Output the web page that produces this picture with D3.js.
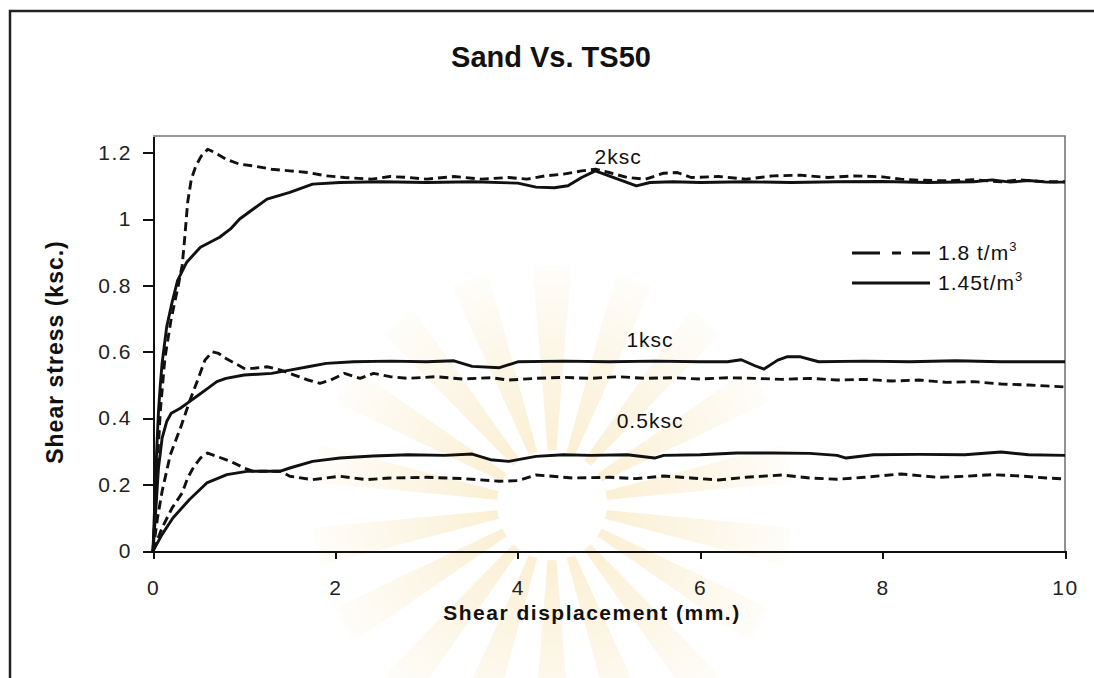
<!DOCTYPE html>
<html>
<head>
<meta charset="utf-8">
<script src="https://cdn.jsdelivr.net/npm/d3@7"></script>
<style>
  body { margin: 0; background: #fff; }
  svg text { font-family: "Liberation Sans", Arial, sans-serif; fill: #111; }
  .axis path, .axis line { stroke: #111; stroke-width: 2; shape-rendering: crispEdges; }
  .axis text { font-size: 21px; letter-spacing: 1.5px; fill: #222; }
  .curve { fill: none; stroke: #111; stroke-width: 2.9; stroke-linejoin: round; }
</style>
</head>
<body>
<svg id="chart" width="1094" height="678"></svg>
<script>
// shear displacement (mm) / shear stress (ksc)
var xTicks = [0, 2, 4, 6, 8, 10];
var yTicks = [0, 0.2, 0.4, 0.6, 0.8, 1, 1.2];
var yTickLabels = ["0", "0.2", "0.4", "0.6", "0.8", "1", "1.2"];

var legendLabels = ["1.8 t/m", "1.45t/m"];
var loadLabels = ["2ksc", "1ksc", "0.5ksc"];

// 2 ksc
var x2Dense = [0, 0.04, 0.08, 0.13, 0.2, 0.27, 0.32, 0.35, 0.38, 0.42, 0.47, 0.53, 0.6, 0.68, 0.8, 0.95, 1.1, 1.3, 1.5, 1.7, 1.9, 2.1, 2.4, 2.6, 2.8, 3.0, 3.3, 3.6, 3.9, 4.1, 4.3, 4.5, 4.7, 4.85, 5.0, 5.2, 5.4, 5.6, 5.75, 5.9, 6.2, 6.5, 6.8, 7.1, 7.4, 7.7, 8.0, 8.2, 8.4, 8.7, 9.0, 9.3, 9.5, 9.8, 10];
var y2Dense = [0, 0.22, 0.42, 0.58, 0.7, 0.79, 0.86, 0.95, 1.05, 1.12, 1.16, 1.19, 1.21, 1.2, 1.18, 1.165, 1.16, 1.15, 1.145, 1.14, 1.13, 1.125, 1.12, 1.128, 1.125, 1.12, 1.128, 1.12, 1.125, 1.12, 1.13, 1.135, 1.145, 1.15, 1.14, 1.125, 1.12, 1.138, 1.14, 1.125, 1.128, 1.12, 1.13, 1.132, 1.125, 1.13, 1.127, 1.12, 1.117, 1.115, 1.118, 1.112, 1.118, 1.112, 1.112];
var x2Loose = [0, 0.02, 0.04, 0.06, 0.08, 0.1, 0.15, 0.21, 0.27, 0.37, 0.52, 0.73, 0.85, 0.95, 1.1, 1.25, 1.5, 1.75, 2.05, 2.5, 3.0, 3.5, 4.0, 4.2, 4.4, 4.55, 4.7, 4.85, 5.0, 5.15, 5.3, 5.45, 5.7, 6.0, 6.5, 7.0, 7.5, 8.0, 8.5, 9.0, 9.2, 9.4, 9.6, 9.8, 10];
var y2Loose = [0, 0.15, 0.3, 0.42, 0.5, 0.566, 0.675, 0.75, 0.815, 0.87, 0.915, 0.945, 0.97, 1.0, 1.03, 1.06, 1.08, 1.105, 1.11, 1.112, 1.11, 1.112, 1.108, 1.096, 1.094, 1.1, 1.125, 1.145, 1.13, 1.115, 1.1, 1.11, 1.112, 1.11, 1.112, 1.11, 1.112, 1.113, 1.11, 1.112, 1.118, 1.111, 1.116, 1.111, 1.111];

// 1 ksc
var x1Dense = [0, 0.05, 0.1, 0.19, 0.3, 0.4, 0.49, 0.57, 0.65, 0.72, 0.8, 0.9, 1.0, 1.1, 1.25, 1.4, 1.55, 1.7, 1.83, 1.95, 2.1, 2.27, 2.42, 2.6, 2.8, 3.1, 3.4, 3.7, 3.9, 4.2, 4.5, 4.8, 5.1, 5.4, 5.7, 6.0, 6.3, 6.6, 6.9, 7.2, 7.5, 7.8, 8.1, 8.4, 8.7, 9.0, 9.3, 9.6, 10];
var y1Dense = [0, 0.1, 0.18, 0.29, 0.37, 0.45, 0.515, 0.575, 0.6, 0.595, 0.58, 0.565, 0.55, 0.55, 0.555, 0.545, 0.53, 0.515, 0.505, 0.515, 0.535, 0.52, 0.535, 0.525, 0.52, 0.525, 0.518, 0.522, 0.515, 0.52, 0.523, 0.52, 0.525, 0.52, 0.522, 0.518, 0.522, 0.52, 0.517, 0.52, 0.515, 0.517, 0.512, 0.515, 0.508, 0.51, 0.503, 0.5, 0.494];
var x1Loose = [0, 0.03, 0.06, 0.1, 0.15, 0.2, 0.3, 0.4, 0.5, 0.6, 0.7, 0.8, 1.0, 1.3, 1.5, 1.7, 1.9, 2.2, 2.6, 3.0, 3.3, 3.5, 3.8, 4.0, 4.5, 5.0, 5.5, 6.0, 6.3, 6.45, 6.6, 6.7, 6.85, 6.95, 7.1, 7.3, 7.8, 8.3, 8.8, 9.3, 9.7, 10];
var y1Loose = [0, 0.12, 0.25, 0.34, 0.39, 0.415, 0.43, 0.45, 0.47, 0.49, 0.51, 0.52, 0.53, 0.535, 0.545, 0.555, 0.565, 0.57, 0.572, 0.57, 0.573, 0.556, 0.552, 0.57, 0.572, 0.57, 0.572, 0.57, 0.57, 0.576, 0.558, 0.548, 0.575, 0.585, 0.585, 0.57, 0.572, 0.57, 0.573, 0.57, 0.57, 0.57];

// 0.5 ksc
var x05Dense = [0, 0.1, 0.21, 0.32, 0.38, 0.45, 0.52, 0.6, 0.7, 0.85, 1.0, 1.1, 1.25, 1.4, 1.5, 1.75, 2.05, 2.34, 2.6, 3.0, 3.4, 3.8, 4.0, 4.2, 4.6, 5.0, 5.3, 5.6, 5.9, 6.2, 6.5, 6.9, 7.2, 7.5, 7.8, 8.2, 8.6, 8.9, 9.2, 9.5, 9.8, 10];
var y05Dense = [0, 0.07, 0.13, 0.175, 0.22, 0.255, 0.28, 0.295, 0.285, 0.27, 0.25, 0.24, 0.24, 0.24, 0.225, 0.215, 0.225, 0.215, 0.22, 0.222, 0.218, 0.21, 0.212, 0.229, 0.22, 0.222, 0.218, 0.226, 0.22, 0.214, 0.222, 0.229, 0.22, 0.216, 0.222, 0.232, 0.222, 0.225, 0.23, 0.226, 0.22, 0.217];
var x05Loose = [0, 0.1, 0.22, 0.4, 0.59, 0.81, 1.03, 1.2, 1.39, 1.5, 1.75, 2.05, 2.41, 2.8, 3.2, 3.5, 3.7, 3.9, 4.2, 4.5, 4.8, 5.2, 5.5, 5.6, 6.0, 6.4, 6.8, 7.2, 7.5, 7.6, 7.9, 8.4, 8.9, 9.3, 9.6, 10];
var y05Loose = [0, 0.05, 0.1, 0.155, 0.205, 0.23, 0.24, 0.24, 0.24, 0.25, 0.27, 0.28, 0.286, 0.29, 0.288, 0.292, 0.275, 0.27, 0.285, 0.29, 0.288, 0.29, 0.28, 0.288, 0.29, 0.295, 0.295, 0.294, 0.288, 0.28, 0.29, 0.291, 0.29, 0.298, 0.29, 0.288];

var denseSeries = [[x2Dense, y2Dense], [x1Dense, y1Dense], [x05Dense, y05Dense]];
var looseSeries = [[x2Loose, y2Loose], [x1Loose, y1Loose], [x05Loose, y05Loose]];
var labelAt = [[5.1, 1.165], [5.45, 0.615], [5.45, 0.37]];

function toPoints(pair) {
  return pair[0].map(function(x, i) { return { x: x, y: pair[1][i] }; });
}

var svg = d3.select("#chart");
var margin = { left: 153, top: 136, right: 1065, bottom: 551 };

var x = d3.scaleLinear().domain([0, 10]).range([margin.left, margin.right]);
var y = d3.scaleLinear().domain([0, 1.25]).range([margin.bottom, margin.top]);

// faint watermark behind the plot
var grad = svg.append("defs").append("radialGradient")
  .attr("id", "wm").attr("gradientUnits", "userSpaceOnUse")
  .attr("cx", 0).attr("cy", 0).attr("r", 240);
grad.append("stop").attr("offset", "25%").attr("stop-color", "#f3d27e");
grad.append("stop").attr("offset", "100%").attr("stop-color", "#fffaf0");

var mark = svg.append("g").attr("transform", "translate(552,505)").attr("opacity", 0.32);
var rays = d3.range(18);
mark.selectAll("path.ray").data(rays).enter().append("path")
  .attr("class", "ray")
  .attr("d", function(d) {
    var a = d / rays.length * 2 * Math.PI;
    return d3.arc().innerRadius(55).outerRadius(240).startAngle(a - 0.08).endAngle(a + 0.08)();
  })
  .style("fill", "url(#wm)");

// outer frame (scanned page border)
svg.append("path")
  .attr("d", "M10,678 L10,11 L1094,11")
  .style("fill", "none").style("stroke", "#222").style("stroke-width", 2.5);

svg.append("text")
  .attr("x", 551).attr("y", 67)
  .attr("text-anchor", "middle")
  .style("font-size", "29px").style("font-weight", "bold")
  .text("Sand Vs. TS50");

// plot border (top/right are lighter in the scan)
svg.append("path")
  .attr("d", "M" + margin.left + "," + margin.top + " L" + margin.right + "," + margin.top + " L" + margin.right + "," + margin.bottom)
  .style("fill", "none").style("stroke", "#777").style("stroke-width", 1.6);

svg.append("g")
  .attr("class", "axis")
  .attr("transform", "translate(0," + margin.bottom + ")")
  .call(d3.axisBottom(x).tickValues(xTicks).tickSize(8).tickSizeOuter(0).tickPadding(21).tickFormat(d3.format("d")));

svg.append("g")
  .attr("class", "axis")
  .attr("transform", "translate(" + margin.left + ",0)")
  .call(d3.axisLeft(y).tickValues(yTicks).tickSize(10).tickSizeOuter(0).tickPadding(11)
    .tickFormat(function(d, i) { return yTickLabels[i]; }));

svg.append("text")
  .attr("x", 592).attr("y", 620)
  .attr("text-anchor", "middle")
  .style("font-size", "21px").style("font-weight", "bold").style("letter-spacing", "1.5px")
  .text("Shear displacement (mm.)");

svg.append("text")
  .attr("transform", "translate(63,352) rotate(-90)")
  .attr("text-anchor", "middle")
  .style("font-size", "23px").style("font-weight", "bold").style("letter-spacing", "1px")
  .text("Shear stress (ksc.)");

var line = d3.line().x(function(d) { return x(d.x); }).y(function(d) { return y(d.y); });

svg.append("g").selectAll("path.dense").data(denseSeries).enter().append("path")
  .attr("class", "curve dense")
  .attr("d", function(d) { return line(toPoints(d)); })
  .style("stroke-dasharray", "9,5");

svg.append("g").selectAll("path.loose").data(looseSeries).enter().append("path")
  .attr("class", "curve loose")
  .attr("d", function(d) { return line(toPoints(d)); });

svg.append("g").selectAll("text").data(loadLabels).enter().append("text")
  .attr("x", function(d, i) { return x(labelAt[i][0]); })
  .attr("y", function(d, i) { return y(labelAt[i][1]); })
  .attr("text-anchor", "middle")
  .style("font-size", "21px").style("letter-spacing", "1px")
  .text(function(d) { return d; });

// legend
var legend = svg.append("g");
var legendY = [253, 283];
legend.selectAll("line").data(legendLabels).enter().append("line")
  .attr("x1", 852).attr("x2", 930)
  .attr("y1", function(d, i) { return legendY[i]; })
  .attr("y2", function(d, i) { return legendY[i]; })
  .style("stroke", "#111").style("stroke-width", 3)
  .style("stroke-dasharray", function(d, i) { return i === 0 ? "28,12,9,11,23" : null; });

var legendText = legend.selectAll("text").data(legendLabels).enter().append("text")
  .attr("x", 938)
  .attr("y", function(d, i) { return legendY[i] + 7; })
  .style("font-size", "21px").style("letter-spacing", "1px");
legendText.append("tspan").text(function(d) { return d; });
legendText.append("tspan").attr("dy", -9).style("font-size", "13px").text("3");
</script>
</body>
</html>
